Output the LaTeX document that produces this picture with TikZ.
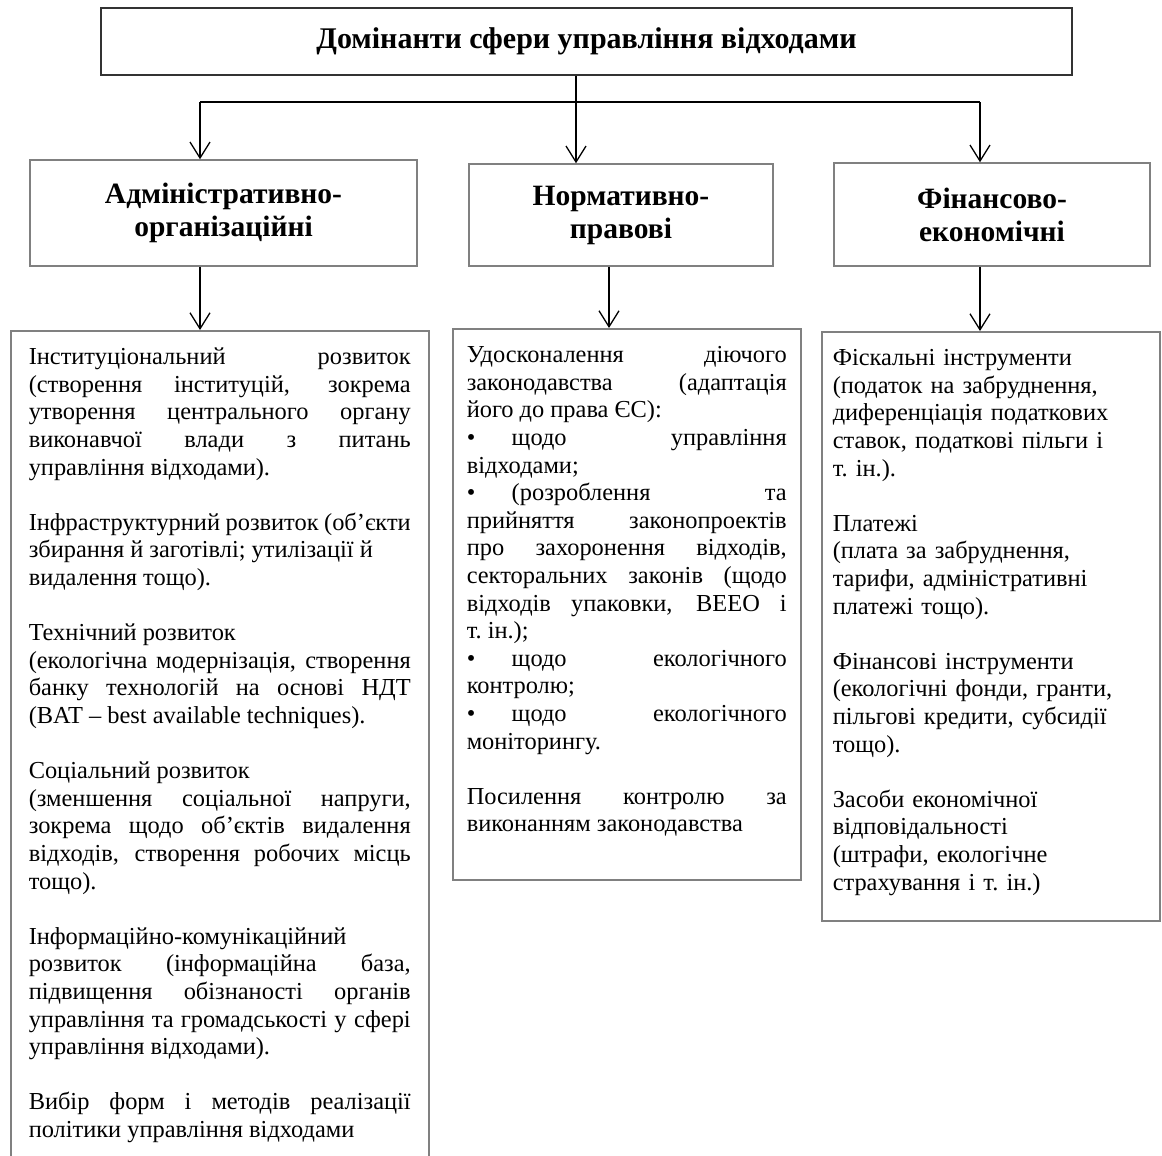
\documentclass[tikz,border=0pt]{standalone}
\usepackage{fontspec}
\setmainfont{Liberation Serif}
\usepackage{tikz}
\usetikzlibrary{arrows.meta}
\newcommand{\bul}{\makebox[45pt][l]{•}}
\newcommand{\skipline}{\par\vspace{\baselineskip}}
\hbadness=10000
\hyphenpenalty=10000
\exhyphenpenalty=10000

\begin{document}
\begin{tikzpicture}[
    x=1pt, y=-1pt,
    box/.style={draw=black!50, line width=1.5pt, inner sep=0pt, align=center},
    headbox/.style={box, font=\fontsize{29.5}{33}\selectfont\bfseries},
    titlebox/.style={headbox, draw=black!80, line width=2pt, font=\fontsize{30}{33}\selectfont\bfseries},
    detail/.style={box, anchor=north west, inner ysep=0pt, text height=34pt, font=\fontsize{24.4}{27.6}\selectfont},
    arr/.style={-{Straight Barb[length=16pt,width=20pt]}, line width=1.3pt},
    barline/.style={line width=2pt}
]
\useasboundingbox (0,0) rectangle (1162,1156);
\clip (0,0) rectangle (1162,1156);

\node[titlebox, minimum width=971pt, minimum height=67pt] (top) at (586.5,41.5) {Домінанти сфери управління відходами};

\node[headbox, minimum width=387pt, minimum height=106pt] (adm) at (223.5,213) {Адміністративно-\\організаційні};
\node[headbox, minimum width=304pt, minimum height=102pt] (norm) at (621,215) {Нормативно-\\правові};
\node[headbox, minimum width=316pt, minimum height=103pt] (fin) at (992,214.5) {Фінансово-\\економічні};

\node[detail, text width=382pt, inner xsep=18pt, text depth=812pt, align=justify] (admd) at (10,330) {%
Інституціональний розвиток\linebreak (створення інституцій, зокрема\linebreak утворення центрального органу\linebreak виконавчої влади з питань\linebreak управління відходами).\skipline
Інфраструктурний розвиток (об’єкти\newline збирання й заготівлі; утилізації й\newline видалення тощо).\skipline
Технічний розвиток\newline (екологічна модернізація, створення\linebreak банку технологій на основі НДТ\linebreak (BAT – best available techniques).\skipline
Соціальний розвиток\newline (зменшення соціальної напруги,\linebreak зокрема щодо об’єктів видалення\linebreak відходів, створення робочих місць\linebreak тощо).\skipline
Інформаційно-комунікаційний\newline розвиток (інформаційна база,\linebreak підвищення обізнаності органів\linebreak управління та громадськості у сфері\linebreak управління відходами).\skipline
Вибір форм і методів реалізації\linebreak політики управління відходами};

\node[detail, text width=320pt, inner xsep=14pt, text depth=517pt, align=justify] (normd) at (452,328) {%
Удосконалення діючого\linebreak законодавства (адаптація\linebreak його до права ЄС):\par
\bul щодо управління\linebreak відходами;\par
\bul (розроблення та\linebreak прийняття законопроектів\linebreak про захоронення відходів,\linebreak секторальних законів (щодо\linebreak відходів упаковки, ВЕЕО і\linebreak т.~ін.);\par
\bul щодо екологічного\linebreak контролю;\par
\bul щодо екологічного\linebreak моніторингу.\skipline
Посилення контролю за\linebreak виконанням законодавства};

\node[detail, text width=316pt, inner xsep=11pt, text depth=555pt, align=left] (find) at (821,331) {%
Фіскальні інструменти\\ (податок на забруднення,\\ диференціація податкових\\ ставок, податкові пільги і\\ т.~ін.).\skipline
Платежі\\ (плата за забруднення,\\ тарифи, адміністративні\\ платежі тощо).\skipline
Фінансові інструменти\\ (екологічні фонди, гранти,\\ пільгові кредити, субсидії\\ тощо).\skipline
Засоби економічної\\ відповідальності\\ (штрафи, екологічне\\ страхування і т.~ін.)};

\coordinate (xl) at (200,102);
\coordinate (xm) at (576,102);
\coordinate (xr) at (980,102);
\coordinate (xn) at (609,0);

\draw[arr] (top.south -| xm) -- (norm.north -| xm);
\draw[barline] (xl) -- (xr);
\draw[arr] (xl) -- (adm.north -| xl);
\draw[arr] (xr) -- (fin.north -| xr);
\draw[arr] (adm.south -| xl) -- (admd.north -| xl);
\draw[arr] (norm.south -| xn) -- (normd.north -| xn);
\draw[arr] (fin.south -| xr) -- (find.north -| xr);
\end{tikzpicture}
\end{document}
